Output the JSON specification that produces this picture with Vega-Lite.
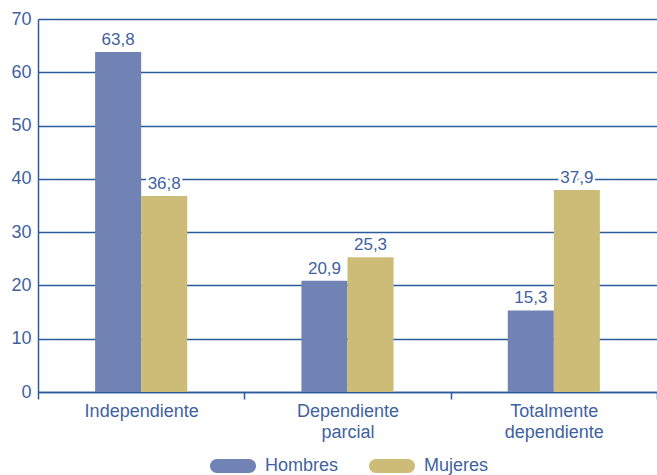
{
  "$schema": "https://vega.github.io/schema/vega-lite/v6.json",
  "width": 619,
  "height": 373,
  "autosize": {"type": "none"},
  "padding": {"left": 38, "top": 19, "right": 0, "bottom": 83},
  "background": "white",
  "config": {
    "view": {"stroke": null},
    "font": "Liberation Sans",
    "axis": {"labelFont": "Liberation Sans", "labelColor": "#3f62a0", "labelFontSize": 18}
  },
  "data": {
    "values": [
      {"cat": "Independiente", "sexo": "Hombres", "v": 63.8, "lab": "63,8"},
      {"cat": "Independiente", "sexo": "Mujeres", "v": 36.8, "lab": "36,8"},
      {"cat": "Dependiente|parcial", "sexo": "Hombres", "v": 20.9, "lab": "20,9"},
      {"cat": "Dependiente|parcial", "sexo": "Mujeres", "v": 25.3, "lab": "25,3"},
      {"cat": "Totalmente|dependiente", "sexo": "Hombres", "v": 15.3, "lab": "15,3"},
      {"cat": "Totalmente|dependiente", "sexo": "Mujeres", "v": 37.9, "lab": "37,9"}
    ]
  },
  "encoding": {
    "x": {
      "field": "cat", "type": "nominal",
      "sort": ["Independiente", "Dependiente|parcial", "Totalmente|dependiente"],
      "scale": {"paddingInner": 0, "paddingOuter": 0},
      "axis": {
        "title": null, "labelAngle": 0, "tickBand": "extent",
        "labelExpr": "split(datum.label, '|')",
        "domainColor": "#2b5b9c", "domainWidth": 1.5,
        "tickColor": "#2b5b9c", "tickWidth": 1.5, "tickSize": 7,
        "labelPadding": 3, "labelLineHeight": 21, "labelBaseline": "top"
      }
    },
    "xOffset": {
      "field": "sexo", "type": "nominal",
      "scale": {"domain": ["_l", "Hombres", "Mujeres", "_r"], "paddingInner": 0, "paddingOuter": 0.24}
    },
    "y": {
      "field": "v", "type": "quantitative",
      "scale": {"domain": [0, 70], "nice": false},
      "axis": {
        "title": null, "values": [0, 10, 20, 30, 40, 50, 60, 70],
        "grid": true, "gridColor": "#2b5b9c", "gridWidth": 1.5, "gridOpacity": 1,
        "domainColor": "#2b5b9c", "domainWidth": 1.5,
        "ticks": false, "labelPadding": 7
      }
    }
  },
  "layer": [
    {
      "mark": {"type": "bar"},
      "encoding": {
        "color": {
          "field": "sexo", "type": "nominal",
          "scale": {"domain": ["Hombres", "Mujeres"], "range": ["#7083b4", "#cdbc77"]},
          "legend": {
            "title": null, "orient": "none", "direction": "horizontal",
            "legendX": 172, "legendY": 424,
            "symbolType": "M-0.696,-0.304 L0.696,-0.304 A0.304,0.304 0 0 1 0.696,0.304 L-0.696,0.304 A0.304,0.304 0 0 1 -0.696,-0.304 Z",
            "symbolSize": 2116, "symbolStrokeWidth": 0, "symbolOpacity": 1,
            "labelOffset": 9, "columnPadding": 30,
            "labelFont": "Liberation Sans", "labelFontSize": 18, "labelColor": "#3f62a0"
          }
        }
      }
    },
    {
      "mark": {"type": "text", "baseline": "bottom", "dy": -3, "fontSize": 17, "stroke": "white", "strokeWidth": 5, "fill": "white"},
      "encoding": {"text": {"field": "lab"}}
    },
    {
      "mark": {"type": "text", "baseline": "bottom", "dy": -3, "fontSize": 17, "fill": "#3f62a0"},
      "encoding": {"text": {"field": "lab"}}
    }
  ]
}
